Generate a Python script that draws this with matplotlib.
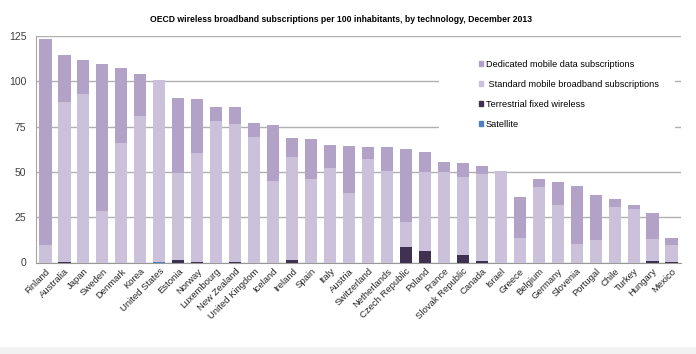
import matplotlib
matplotlib.use("Agg")
import matplotlib.pyplot as plt
from matplotlib.patches import Patch, Rectangle
import numpy as np

# OECD wireless broadband subscriptions per 100 inhabitants, Dec 2013
countries = ["Finland", "Australia", "Japan", "Sweden", "Denmark", "Korea",
             "United States", "Estonia", "Norway", "Luxembourg", "New Zealand",
             "United Kingdom", "Iceland", "Ireland", "Spain", "Italy", "Austria",
             "Switzerland", "Netherlands", "Czech Republic", "Poland", "France",
             "Slovak Republic", "Canada", "Israel", "Greece", "Belgium", "Germany",
             "Slovenia", "Portugal", "Chile", "Turkey", "Hungary", "Mexico"]

satellite = [0, 0, 0, 0, 0, 0, 0.5, 0, 0, 0, 0, 0, 0, 0, 0, 0, 0,
             0, 0, 0, 0, 0, 0, 0, 0, 0, 0, 0, 0, 0, 0, 0, 0, 0]
fixed_wireless = [0, 0.5, 0, 0, 0, 0, 0, 1.3, 0.4, 0, 0.4, 0, 0, 1.3, 0, 0, 0,
                  0, 0, 8.7, 6.4, 0, 4.2, 0.8, 0, 0, 0, 0, 0, 0, 0, 0, 0.8, 0.3]
standard = [9.9, 87.9, 92.8, 28.5, 66.1, 81.0, 100.0, 47.9, 60.0, 78.2, 75.8,
            69.4, 45.1, 56.9, 46.0, 52.1, 38.3, 57.3, 50.6, 13.6, 43.5, 49.9,
            42.9, 48.1, 50.6, 13.4, 41.6, 31.8, 10.1, 12.5, 30.7, 29.6, 12.4, 9.4]
dedicated = [113.4, 26.1, 18.9, 81.2, 41.2, 22.8, 0, 41.6, 29.8, 7.6, 9.6,
             7.6, 30.9, 10.7, 22.1, 12.7, 26.1, 6.6, 13.3, 40.1, 10.9, 5.5,
             7.9, 4.4, 0, 22.7, 4.4, 12.9, 32.2, 24.5, 4.6, 2.0, 14.2, 3.9]

yticks = [0, 25, 50, 75, 100, 125]

c_ded = "#b3a2c7"
c_std = "#ccc1da"
c_fix = "#3f3151"
c_sat = "#4f81bd"

fig = plt.figure(figsize=(6.96, 3.54), dpi=100)
fig.patch.set_facecolor("white")
fig.patches.append(Rectangle((0, 0), 1, 7 / 354, transform=fig.transFigure,
                             facecolor="#f2f2f2", edgecolor="none"))

ax = fig.add_axes([36 / 696, 1 - 262.5 / 354, 645 / 696, 226.5 / 354])

x = np.arange(len(countries))
w = 0.64
sat = np.array(satellite)
fix = np.array(fixed_wireless)
std = np.array(standard)
ded = np.array(dedicated)

ax.bar(x, sat, w, color=c_sat, zorder=3)
ax.bar(x, fix, w, bottom=sat, color=c_fix, zorder=3)
ax.bar(x, std, w, bottom=sat + fix, color=c_std, zorder=3)
ax.bar(x, ded, w, bottom=sat + fix + std, color=c_ded, zorder=3)

ax.set_xlim(-0.5, len(countries) - 0.5)
ax.set_ylim(0, 125)
ax.set_yticks(yticks)
ax.set_yticklabels([str(t) for t in yticks], fontsize=7.5, color="#404040",
                   family="Liberation Sans")
ax.set_xticks(x)
ax.set_xticklabels(countries, rotation=45, ha="right", rotation_mode="anchor",
                   fontsize=6.8, color="#262626", family="Liberation Sans")
ax.tick_params(axis="y", length=0, pad=7)
ax.tick_params(axis="x", length=0, pad=3)

ax.grid(axis="y", color="#b0b0b0", linewidth=1, zorder=0)
ax.set_axisbelow(True)
for s in ["top", "right"]:
    ax.spines[s].set_visible(False)
ax.spines["left"].set_color("#a6a6a6")
ax.spines["bottom"].set_color("#999999")

# white box behind the legend hides the gridlines there
ax.add_patch(Rectangle((0.625, 0.563), 0.366, 0.42, transform=ax.transAxes,
                       facecolor="white", edgecolor="none", zorder=1))

handles = [Patch(color=c_ded), Patch(color=c_std), Patch(color=c_fix), Patch(color=c_sat)]
labels = ["Dedicated mobile data subscriptions", " Standard mobile broadband subscriptions",
          "Terrestrial fixed wireless", "Satellite"]
fig.legend(handles, labels, loc="upper left", bbox_to_anchor=(474 / 696, 1 - 55 / 354),
           frameon=False, handlelength=0.5, handleheight=0.5,
           handletextpad=0.3, labelspacing=1.2, borderpad=0,
           prop={"family": "Liberation Sans", "size": 6.6})

fig.text(341 / 696, 1 - 20 / 354,
         "OECD wireless broadband subscriptions per 100 inhabitants, by technology, December 2013",
         ha="center", va="center", fontsize=6.2, fontweight="bold", family="Liberation Sans")

fig.savefig("out.png", dpi=100)
